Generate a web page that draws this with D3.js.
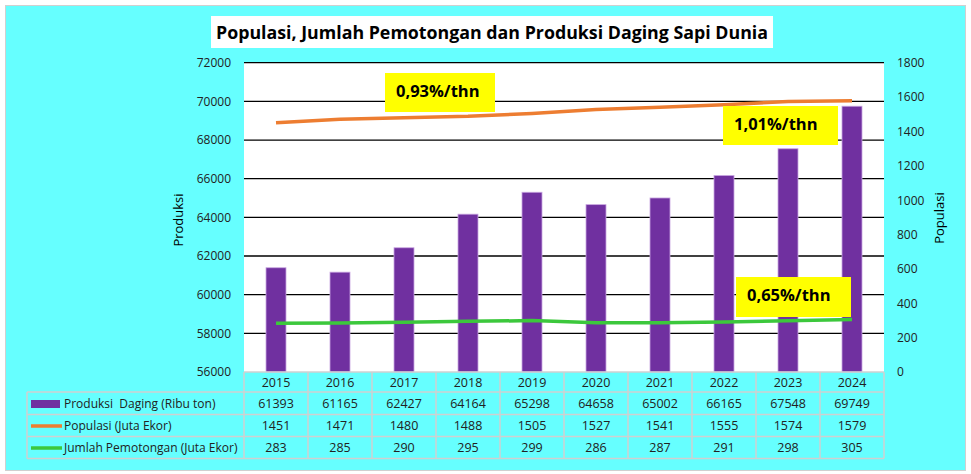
<!DOCTYPE html>
<meta charset="utf-8">
<script src="https://d3js.org/d3.v7.min.js"></script>
<body style="margin:0;background:#fff">
<svg width="971" height="474"></svg>
<script>
var years = [2015, 2016, 2017, 2018, 2019, 2020, 2021, 2022, 2023, 2024];
var produksi = [61393, 61165, 62427, 64164, 65298, 64658, 65002, 66165, 67548, 69749];
var populasi = [1451, 1471, 1480, 1488, 1505, 1527, 1541, 1555, 1574, 1579];
var pemotongan = [283, 285, 290, 295, 299, 286, 287, 291, 298, 305];
var seriesNames = ["Produksi  Daging (Ribu ton)", "Populasi (Juta Ekor)", "Jumlah Pemotongan (Juta Ekor)"];
var notes = [
  {text: "0,93%/thn", x: 385, y: 73, w: 110, h: 39},
  {text: "1,01%/thn", x: 723, y: 106, w: 115, h: 39},
  {text: "0,65%/thn", x: 736, y: 277, w: 115, h: 40}
];

var font = "'Open Sans', sans-serif";
var svg = d3.select("svg").style("font-family", font);
var plotLeft = 244, plotRight = 884, plotTop = 62.7, plotBottom = 372;

// background
svg.append("rect").attr("x", 5.5).attr("y", 5.5).attr("width", 960).attr("height", 465)
  .attr("fill", "#66ffff").attr("stroke", "#d0d0d0");

// title
svg.append("rect").attr("x", 211).attr("y", 16).attr("width", 562).attr("height", 32).attr("fill", "#fff");
svg.append("text").attr("x", 492).attr("y", 39).attr("text-anchor", "middle")
  .attr("font-weight", "bold").attr("font-size", 17.8).text("Populasi, Jumlah Pemotongan dan Produksi Daging Sapi Dunia");

var x = d3.scaleBand().domain(years).range([plotLeft, plotRight]).paddingInner(0.6875).paddingOuter(0.34375);
var yL = d3.scaleLinear().domain([56000, 72000]).range([plotBottom, plotTop]);
var yR = d3.scaleLinear().domain([0, 1800]).range([plotBottom, plotTop]);
var cx = function(d){ return x(d) + x.bandwidth() / 2; };

svg.append("rect").attr("x", plotLeft).attr("y", plotTop).attr("width", plotRight - plotLeft)
  .attr("height", plotBottom - plotTop).attr("fill", "#fff");

// grid
svg.append("g").selectAll("line").data(d3.range(58000, 72001, 2000)).enter().append("line")
  .attr("x1", plotLeft).attr("x2", plotRight)
  .attr("y1", function(d){ return yL(d); }).attr("y2", function(d){ return yL(d); })
  .attr("stroke", "#000").attr("stroke-width", 1.3);

// axes
var axL = svg.append("g").attr("transform", "translate(" + (plotLeft - 12) + ",0)")
  .call(d3.axisLeft(yL).tickValues(d3.range(56000, 72001, 2000)).tickSize(0).tickFormat(d3.format("d")));
var axR = svg.append("g").attr("transform", "translate(" + (plotRight + 12) + ",0)")
  .call(d3.axisRight(yR).tickValues(d3.range(0, 1801, 200)).tickSize(0).tickFormat(d3.format("d")));
[axL, axR].forEach(function(a){
  a.select(".domain").remove();
  a.selectAll("text").attr("font-size", 12).attr("font-family", font).attr("fill", "#222");
});
axL.selectAll("text").attr("x", -1);
axR.selectAll("text").attr("x", 1);

svg.append("text").attr("transform", "translate(183,220) rotate(-90)").attr("text-anchor", "middle")
  .attr("font-size", 13).text("Produksi");
svg.append("text").attr("transform", "translate(944,218) rotate(-90)").attr("text-anchor", "middle")
  .attr("font-size", 13).text("Populasi");

// bars
svg.append("g").selectAll("rect").data(years).enter().append("rect")
  .attr("x", function(d){ return x(d); }).attr("width", x.bandwidth())
  .attr("y", function(d, i){ return yL(produksi[i]); })
  .attr("height", function(d, i){ return plotBottom - yL(produksi[i]); })
  .attr("fill", "#7030a0").attr("stroke", "#c9a6e0").attr("stroke-width", 0.8);

// lines
var line = function(vals){
  return d3.line().x(function(d){ return cx(d); }).y(function(d, i){ return yR(vals[i]); })(years);
};
svg.append("path").attr("d", line(populasi)).attr("fill", "none").attr("stroke", "#ed7d31").attr("stroke-width", 3.5);
svg.append("path").attr("d", line(pemotongan)).attr("fill", "none").attr("stroke", "#3cc83c").attr("stroke-width", 3.5);

// notes
notes.forEach(function(n){
  svg.append("rect").attr("x", n.x).attr("y", n.y).attr("width", n.w).attr("height", n.h).attr("fill", "#ffff00");
  svg.append("text").attr("x", n.x + 11).attr("y", n.y + 24).attr("font-size", 16.5).attr("font-weight", "bold").text(n.text);
});

// data table
var rowTop = [372, 392, 414.5, 436.5, 458.5];
var step = x.step();
var tbl = svg.append("g").attr("fill", "none").attr("stroke", "#d0d0d0").attr("stroke-width", 1.5);
tbl.append("line").attr("x1", plotLeft).attr("x2", plotRight).attr("y1", rowTop[0]).attr("y2", rowTop[0]);
for (var r = 1; r < rowTop.length; r++) {
  tbl.append("line").attr("x1", 27).attr("x2", plotRight).attr("y1", rowTop[r]).attr("y2", rowTop[r]);
}
tbl.append("line").attr("x1", 27).attr("x2", 27).attr("y1", rowTop[1]).attr("y2", rowTop[4]);
d3.range(0, years.length + 1).forEach(function(k){
  tbl.append("line").attr("x1", plotLeft + k * step).attr("x2", plotLeft + k * step)
    .attr("y1", rowTop[0]).attr("y2", rowTop[4]);
});

var rowsData = [years, produksi, populasi, pemotongan];
rowsData.forEach(function(vals, r){
  svg.append("g").selectAll("text").data(vals).enter().append("text")
    .attr("x", function(d, i){ return cx(years[i]); })
    .attr("y", (rowTop[r] + rowTop[r + 1]) / 2 + 4.5)
    .attr("text-anchor", "middle").attr("font-size", 12.5).attr("fill", "#222")
    .text(function(d){ return d; });
});

// legend keys
svg.append("rect").attr("x", 31).attr("y", 400).attr("width", 29).attr("height", 8).attr("fill", "#7030a0");
svg.append("line").attr("x1", 31).attr("x2", 62).attr("y1", 426).attr("y2", 426).attr("stroke", "#ed7d31").attr("stroke-width", 3.5);
svg.append("line").attr("x1", 31).attr("x2", 62).attr("y1", 448).attr("y2", 448).attr("stroke", "#3cc83c").attr("stroke-width", 3.5);
seriesNames.forEach(function(s, i){
  svg.append("text").attr("x", 64).attr("y", (rowTop[i + 1] + rowTop[i + 2]) / 2 + 4.5)
    .style("white-space", "pre")
    .attr("font-size", 12).attr("fill", "#222").text(s);
});
</script>
</body>
